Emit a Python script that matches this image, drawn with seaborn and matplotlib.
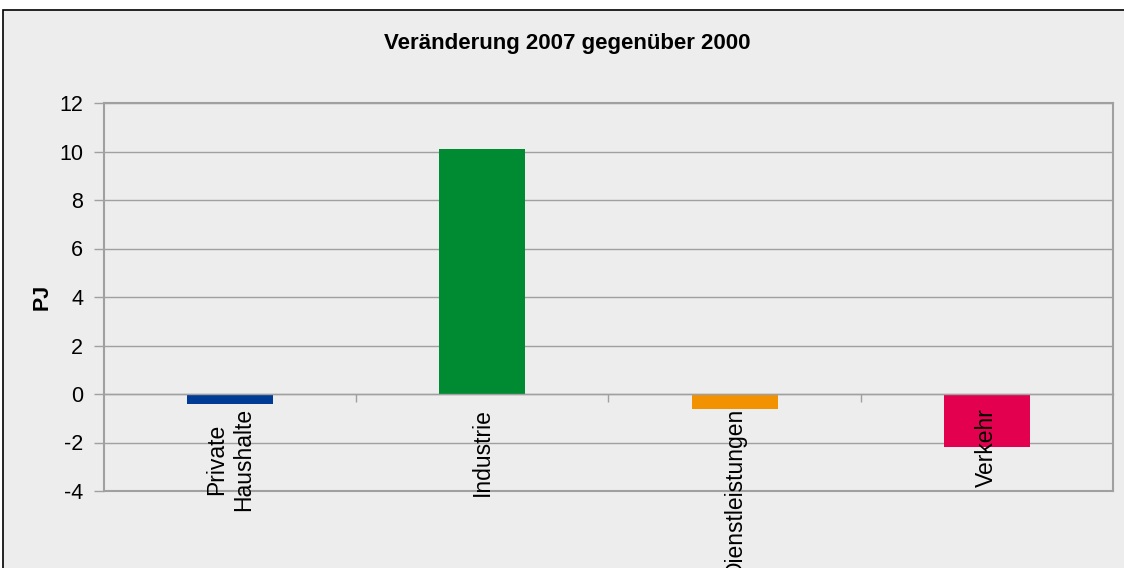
import matplotlib
matplotlib.use("Agg")
import matplotlib.pyplot as plt
import matplotlib.patches as mpatches
import seaborn as sns
import pandas as pd

categories = ["Private\nHaushalte", "Industrie", "Dienstleistungen", "Verkehr"]
values = [-0.4, 10.1, -0.6, -2.2]
colors = ["#003C96", "#008A32", "#F39200", "#E2004F"]
yticks = [-4, -2, 0, 2, 4, 6, 8, 10, 12]
title = "Veränderung 2007 gegenüber 2000"
ylabel = "PJ"

sns.set_style("white")
plt.rcParams["font.family"] = ["Liberation Sans", "DejaVu Sans"]
plt.rcParams["text.color"] = "black"
plt.rcParams["axes.labelcolor"] = "black"
plt.rcParams["xtick.color"] = "black"
plt.rcParams["ytick.color"] = "black"

W, H = 1124, 568
fig = plt.figure(figsize=(W / 100, H / 100), dpi=100, facecolor="white")

# outer chart frame (grey area with black border, clipped right/bottom)
bg = mpatches.Rectangle((3 / W, -0.1), 1.2, 1 - 10 / H + 0.1, transform=fig.transFigure,
                        facecolor="#EDEDED", edgecolor="black", lw=1.2, zorder=-10)
fig.patches.append(bg)

ax = fig.add_axes([104 / W, 1 - 491 / H, (1113 - 104) / W, (491 - 103) / H])
ax.set_facecolor("#EDEDED")

df = pd.DataFrame({"cat": categories, "val": values})
sns.barplot(data=df, x="cat", y="val", hue="cat", palette=colors, legend=False,
            width=0.34, saturation=1, ax=ax, zorder=3, edgecolor="none", linewidth=0)

ax.set_ylim(-4, 12)
ax.set_xlim(-0.5, 3.5)
ax.set_yticks(yticks)
ax.set_yticklabels([str(t) for t in yticks])
ax.yaxis.grid(True, color="#A0A0A0", lw=1, zorder=0)
ax.set_axisbelow(True)
for s in ax.spines.values():
    s.set_color("#A0A0A0")
    s.set_linewidth(1.5)
ax.tick_params(axis="y", direction="out", length=7, width=1, color="#A0A0A0",
               labelsize=15.5, pad=8, left=True, labelcolor="black")
ax.tick_params(axis="x", length=0, labelbottom=False)
ax.set_xlabel("")
ax.set_ylabel(ylabel, fontsize=15.5, fontweight="bold", color="black")
ax.yaxis.set_label_coords((53 - 104) / 1009, 0.5)

# category axis at y = 0
sec = ax.secondary_xaxis(4 / 16)
sec.set_zorder(10)
sec.spines["bottom"].set_color("#A0A0A0")
sec.spines["bottom"].set_linewidth(1)
sec.set_xticks(range(len(categories)))
sec.set_xticklabels(categories)
sec.set_xticks([0.5, 1.5, 2.5], minor=True)
sec.tick_params(axis="x", which="major", length=0, pad=10, labelsize=16.5, labelrotation=90,
                labelcolor="black")
sec.tick_params(axis="x", which="minor", direction="out", length=6, width=1, color="#A0A0A0")

fig.text(0.505, 1 - 43 / H, title, ha="center", va="center", fontsize=16, fontweight="bold",
         color="black")

fig.savefig("out.png", dpi=100, facecolor="white")
